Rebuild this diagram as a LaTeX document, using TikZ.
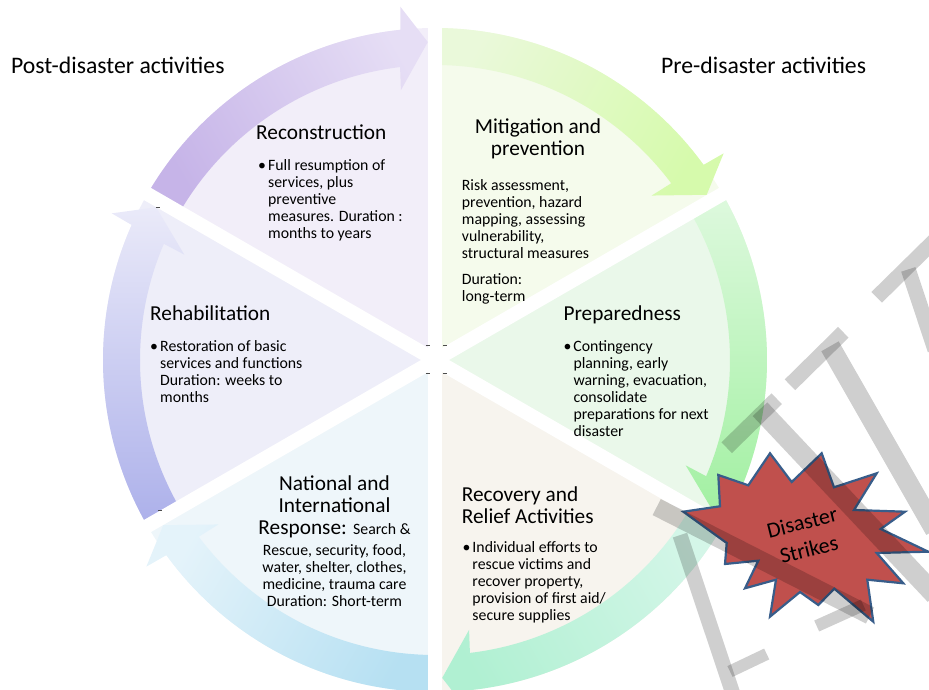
\documentclass[tikz,border=0pt]{standalone}
\usepackage{fontspec}
\setmainfont{Carlito}

\definecolor{reconFill}{RGB}{242,238,249}
\definecolor{mitiFill}{RGB}{245,251,236}
\definecolor{prepFill}{RGB}{234,248,234}
\definecolor{recovFill}{RGB}{247,244,238}
\definecolor{natFill}{RGB}{238,246,250}
\definecolor{rehabFill}{RGB}{238,238,249}
\definecolor{reconTail}{RGB}{198,180,232}
\definecolor{reconHead}{RGB}{230,222,245}
\definecolor{mitiTail}{RGB}{234,249,218}
\definecolor{mitiHead}{RGB}{214,250,172}
\definecolor{prepTail}{RGB}{222,249,222}
\definecolor{prepHead}{RGB}{162,240,162}
\definecolor{recovTail}{RGB}{212,246,232}
\definecolor{recovHead}{RGB}{176,240,210}
\definecolor{natTail}{RGB}{182,224,242}
\definecolor{natHead}{RGB}{228,243,250}
\definecolor{rehabTail}{RGB}{172,176,234}
\definecolor{rehabHead}{RGB}{234,234,249}
\definecolor{burstFill}{RGB}{192,80,77}
\definecolor{burstLine}{RGB}{56,93,138}

% text blocks
\newcommand{\txt}[1]{\parbox[t]{230pt}{\raggedright #1}}
\newcommand{\ctxt}[1]{\parbox[t]{200pt}{\centering #1}}
\newcommand{\bul}[1]{\makebox[10pt][l]{•}\parbox[t]{220pt}{\raggedright #1}}

% curved arrow: tail angle, gap angle at the head, tail colour, head colour
\newcommand{\cyclearrow}[4]{%
  \pgfmathsetmacro{\shang}{(#1+#2)/2}
  \shade[left color=#3, right color=#4, shading angle=\shang]
    (#1:332) arc[start angle=#1, end angle=#2+6, radius=332]
    -- ({#2+5.6}:355) -- ({#2+1.3}:318) -- ({#2+7.2}:272) -- ({#2+6.8}:295)
    arc[start angle=#2+6.8, end angle=#1, radius=295] -- cycle;}

\begin{document}
\begin{tikzpicture}[x=1pt, y=1pt,
  title/.style={font=\fontsize{23.7}{26}\selectfont, inner sep=0pt, anchor=base west},
  head/.style={font=\fontsize{21.3}{22}\selectfont, inner sep=0pt, anchor=base west},
  body/.style={font=\fontsize{15.8}{17}\selectfont, inner sep=0pt, anchor=base west},
  burst/.style={fill=burstFill, draw=burstLine, line width=2.2pt, line join=miter},
  wmark/.style={black, opacity=0.19, line width=#1},
  wmark/.default=15pt,
  tick/.style={black!70, line width=1pt}]
  \useasboundingbox (-435,-330) rectangle (494,360);

  % sectors
  \fill[reconFill] (0,0) -- (90:332) arc[start angle=90, end angle=150, radius=332] -- cycle;
  \fill[rehabFill] (0,0) -- (150:332) arc[start angle=150, end angle=210, radius=332] -- cycle;
  \fill[natFill] (0,0) -- (210:332) arc[start angle=210, end angle=270, radius=332] -- cycle;
  \fill[recovFill] (0,0) -- (270:332) arc[start angle=270, end angle=330, radius=332] -- cycle;
  \fill[prepFill] (0,0) -- (-30:332) arc[start angle=-30, end angle=30, radius=332] -- cycle;
  \fill[mitiFill] (0,0) -- (30:332) arc[start angle=30, end angle=90, radius=332] -- cycle;

  % arrows round the rim
  \cyclearrow{150}{90}{reconTail}{reconHead}
  \cyclearrow{90}{30}{mitiTail}{mitiHead}
  \cyclearrow{30}{-30}{prepTail}{prepHead}
  \cyclearrow{-30}{-90}{recovTail}{recovHead}
  \cyclearrow{270}{210}{natTail}{natHead}
  \cyclearrow{210}{150}{rehabTail}{rehabHead}

  % white gaps
  \foreach \a in {30,90,...,330}
    \draw[white, line width=14pt] (0,0) -- (\a:338);

  \node[title] (post) at (-424,286.7) {Post-disaster activities};
  \node[title] (pre) at (226,286.7) {Pre-disaster activities};

  \node[head] (recon) at (-179,220) {Reconstruction};
  \node[body] (reconTxt) at (-177,189) {\bul{Full resumption of\\services, plus\\preventive\\measures. Duration :\\months to years}};

  \node[head, anchor=base] (miti) at (103,226) {\ctxt{Mitigation and\\prevention}};
  \node[body] (mitiTxt) at (26.7,169.3) {\txt{Risk assessment,\\prevention, hazard\\mapping, assessing\\vulnerability,\\structural measures\\[8.7pt]Duration:\\long-term}};

  \node[head] (prep) at (128.3,39.5) {Preparedness};
  \node[body] (prepTxt) at (128.3,8.3) {\bul{Contingency\\planning, early\\warning, evacuation,\\consolidate\\preparations for next\\disaster}};

  \node[head] (recov) at (26.7,-141.7) {\txt{Recovery and\\Relief Activities}};
  \node[body] (recovTxt) at (27.3,-192.7) {\bul{Individual efforts to\\rescue victims and\\recover property,\\provision of first aid/\\secure supplies}};

  \node[head, anchor=base] (nat) at (-100.5,-130.7) {\ctxt{National and\\International\\Response: {\fontsize{15.8}{17}\selectfont Search \&}}};
  \node[body, anchor=base] (natTxt) at (-100.5,-195) {\ctxt{Rescue, security, food,\\water, shelter, clothes,\\medicine, trauma care\\Duration: Short-term}};

  \node[head] (rehab) at (-285,39.3) {Rehabilitation};
  \node[body] (rehabTxt) at (-285,8.3) {\bul{Restoration of basic\\services and functions\\Duration: weeks to\\months}};

  \begin{scope}[shift={(-435,360)}, yscale=-1]
    % small marks left at the gap ends
    \draw[tick] (426,346) -- (430,346);
    \draw[tick] (443,346) -- (447,346);
    \draw[tick] (426,374) -- (430,374);
    \draw[tick] (443,374) -- (447,374);
    \draw[tick] (156,208) -- (160,208);
    \draw[tick] (158,511) -- (162,511);
    % disaster star
    \draw[burst] (770,453.3) -- (791.7,482) -- (821.7,453.3) -- (834,487.3)
      -- (876.7,473.3) -- (854,510) -- (905,511.7) -- (880.7,529)
      -- (928.3,551.7) -- (876.7,553) -- (903.3,583.3) -- (867.3,579.7)
      -- (873.3,621.7) -- (834.3,588.7) -- (818.3,605) -- (800,592)
      -- (770,616.7) -- (776,579.7) -- (745,588.3) -- (758.3,560.7)
      -- (725,564) -- (726.7,543) -- (683.3,511.7) -- (720,506.3)
      -- (718.3,475) -- (748.3,485.3) -- cycle;
  \end{scope}
  \node[font=\fontsize{22}{28}\selectfont, align=center, rotate=14] (strike) at (370.5,-176) {Disaster\\Strikes};

  % watermark strokes
  \begin{scope}[shift={(-435,360)}, yscale=-1]
    \draw[wmark] (876.7,297.3) -- (935,240);
    \draw[wmark] (908.3,269.4) -- (935,350);
    \draw[wmark] (790,384.8) -- (843.3,332.3);
    \draw[wmark=20pt] (830,346.3) -- (935,530);
    \draw[wmark] (726.7,447.7) -- (776.7,398.7);
    \draw[wmark=20pt] (760,409.2) -- (935,595);
    \draw[wmark=18pt] (656.7,507.1) -- (870,615.5);
    \draw[wmark] (680,535.1) -- (735,700);
    \draw[wmark=12pt] (730,671.5) -- (766.7,654);
    \draw[wmark=12pt] (816.7,626) -- (863.3,605);
  \end{scope}
\end{tikzpicture}
\end{document}
